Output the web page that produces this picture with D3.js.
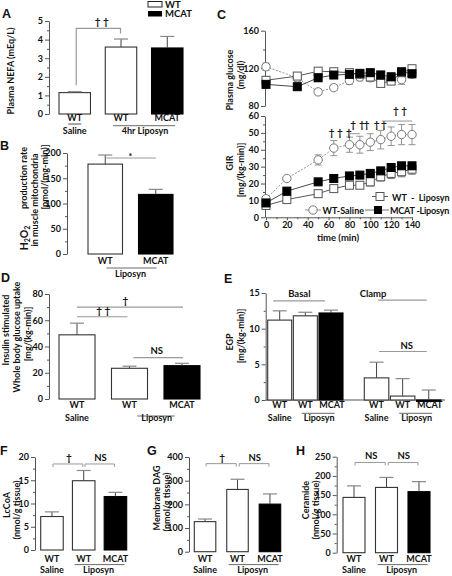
<!DOCTYPE html>
<html><head><meta charset="utf-8">
<script src="https://cdn.jsdelivr.net/npm/d3@7"></script>
<style>
body{margin:0;background:#fff}
text{font-family:Lato,"Liberation Sans",Arial,sans-serif;font-weight:700;fill:#111}
text.letter{font-family:"Liberation Sans",Arial,sans-serif;font-weight:bold}
</style></head><body>
<script>
// ---------------- DATA ----------------
// Panel A: Plasma NEFA
const aCats=["WT-Saline","WT-Liposyn","MCAT-Liposyn"];
const aValues=[1.15,3.6,3.55];
const aErrors=[0.05,0.43,0.62];
const aTicks=[0,1,2,3,4,5];
// Panel B: H2O2 production
const bCats=["WT","MCAT"];
const bValues=[178,118];
const bErrors=[18,10];
const bTicks=[0,50,100,150,200];
// Panel C: clamp time course
const glucTime=[0,30,50,65,80,90,100,110,120,130,140];
const glucSaline=[121.7,110,95,99.5,107,110.8,110,108,107,108,113.6];
const glucSalineErr=[4,4,3,3,4,4,4,4,4,5,4];
const glucWT=[107.3,111.8,117,116.4,115.4,113.6,110.8,104,106.5,115.4,119.6];
const glucWTErr=[4,3,3,3,3,3,3,3,3,3,3];
const glucMCAT=[103,100.5,110,112.9,113.6,114.7,115.4,113,111,116.4,114.3];
const glucMCATErr=[3,3,4,3,3,3,3,3,4,3,3];
const glucTicks=[80,120,160];
const girTime=[0,20,50,65,80,90,100,110,120,130,140];
const girSaline=[11,23,34,41,43,43,44.5,46,48,49,49];
const girSalineErr=[1,1,3,4.5,4.5,5,5,5.5,5.5,6,6];
const girWT=[7,10.5,14,17,19,19,21,24,26,27,28.5];
const girWTErr=[1,1.5,2,2,2,2,2.5,2.5,3,3,3];
const girMCAT=[8.5,15.5,21,23,24.5,25,26,27.5,29.5,30.5,30.5];
const girMCATErr=[1,1.5,1.5,1.5,1.5,1.5,1.5,1.5,2,2,2];
const girTicks=[0,10,20,30,40,50,60];
const timeTicks=[0,20,40,60,80,100,120,140];
const daggerT=[63,71,79.5,83.5,92,96.5,106,113,124.5,132.5];
const daggerY=[48.3,48.3,48.3,53.1,53.1,53.1,53.1,53.1,61.4,61.4];
// Panel D: whole body glucose uptake
const dCats=["WT-Saline","WT-Liposyn","MCAT-Liposyn"];
const dValues=[48.9,23.4,25.4];
const dErrors=[8.9,1.6,1.8];
const dTicks=[0,20,40,60,80];
// Panel E: EGP
const eCats=["WT-Saline","WT-Liposyn","MCAT-Liposyn"];
const eBasal=[11.2,11.8,12.2];
const eBasalErr=[1.3,0.5,0.4];
const eClamp=[3.1,0.55,-0.2];
const eClampErr=[2.2,2.45,1.6];
const eTicks=[0,5,10,15];
// Panel F: LcCoA
const fValues=[7.2,14.9,11.5];
const fErrors=[1.0,2.2,0.9];
const fTicks=[0,5,10,15,20];
// Panel G: Membrane DAG
const gValues=[127,263,201];
const gErrors=[11,43,43];
const gTicks=[0,100,200,300,400];
// Panel H: Ceramide
const hValues=[144,170,159];
const hErrors=[30,26,26];
const hTicks=[0,50,100,150,200,250];
const fills=["#fff","#fff","#000"];

// ---------------- HELPERS ----------------
const svg=d3.select("body").append("svg").attr("width",452).attr("height",576);
svg.append("rect").attr("width",452).attr("height",576).attr("fill","#fff");
const AX="#555";
const NB="\u00a0";

function T(x,y,s,o={}){
  const t=svg.append("text").attr("x",x).attr("y",y).attr("font-size",o.fs||9)
    .attr("text-anchor",o.anchor||"middle").text(s);
  if(o.cls) t.attr("class",o.cls);
  if(o.ls) t.attr("letter-spacing",o.ls);
  if(s.indexOf("†")>=0) t.attr("transform",`rotate(0.02,${x},${y})`);
  return t;
}
function VT(x,y,s,fs){
  return svg.append("text").attr("transform",`translate(${x},${y}) rotate(-90)`)
    .attr("text-anchor","middle").attr("dy","0.35em").attr("font-size",fs||9).text(s);
}
function L(x1,y1,x2,y2,c,w){
  svg.append("line").attr("x1",x1).attr("y1",y1).attr("x2",x2).attr("y2",y2)
    .attr("stroke",c||"#999").attr("stroke-width",w||1);
}
function P(d,c,w){svg.append("path").attr("d",d).attr("fill","none").attr("stroke",c||"#999").attr("stroke-width",w||1);}

function yAxis(y,x,major,fs){
  const step=major[1]-major[0];
  const minor=[];
  for(let i=0;i<major.length-1;i++) minor.push(major[i]+step/2);
  const g=svg.append("g").attr("transform",`translate(${x},0)`)
    .call(d3.axisLeft(y).tickValues(major).tickSize(4).tickSizeOuter(0).tickPadding(2).tickFormat(d3.format("d")));
  g.attr("font-family",null).attr("font-size",null);
  g.select(".domain").attr("stroke",AX);
  g.selectAll(".tick line").attr("stroke",AX);
  g.selectAll(".tick text").attr("font-size",fs||9).attr("fill","#111");
  const g2=svg.append("g").attr("transform",`translate(${x},0)`)
    .call(d3.axisLeft(y).tickValues(minor).tickSize(2).tickSizeOuter(0).tickFormat(""));
  g2.select(".domain").remove();
  g2.selectAll(".tick line").attr("stroke",AX);
}

function bars(x,y,cats,vals,errs,fl){
  const g=svg.append("g");
  g.selectAll("rect").data(cats).join("rect")
    .attr("x",d=>x(d)).attr("width",x.bandwidth())
    .attr("y",(d,i)=>y(Math.max(0,vals[i])))
    .attr("height",(d,i)=>Math.max(0.8,Math.abs(y(vals[i])-y(0))))
    .attr("fill",(d,i)=>fl[i]).attr("stroke",(d,i)=>fl[i]==="#000"?"#000":"#333").attr("stroke-width",1.1);
  cats.forEach((c,i)=>{
    const cx=x(c)+x.bandwidth()/2;
    const top=y(Math.max(0,vals[i])), e=y(vals[i]+errs[i]);
    L(cx,top,cx,e,"#444",1);
    L(cx-7,e,cx+7,e,"#888",1.2);
  });
}
const ctr=(x,c)=>x(c)+x.bandwidth()/2;

// ---------------- PANEL A ----------------
T(2,18,"A",{anchor:"start",fs:12.5,cls:"letter"});
{
  const x=d3.scaleBand().domain(aCats).range([59,183]).paddingInner(0.32).paddingOuter(0);
  const y=d3.scaleLinear().domain([0,5]).range([114,21]);
  yAxis(y,49,aTicks);
  bars(x,y,aCats,aValues,aErrors,fills);
  VT(10.5,71,"Plasma NEFA (mEq/L)");
  P(`M${ctr(x,aCats[0])+1.5},${y(1.55)}V${y(4.6)}H${ctr(x,aCats[1])-0.5}V${y(4.33)}`,"#999",1.2);
  T((ctr(x,aCats[0])+ctr(x,aCats[1]))/2+4,25,"†"+NB+"†",{fs:10});
  T(ctr(x,aCats[0]),121,"WT"); L(ctr(x,aCats[0])-6.5,124,ctr(x,aCats[0])+6.5,124,"#222",0.8);
  T(ctr(x,aCats[1]),121,"WT"); T(ctr(x,aCats[2]),121,"MCAT");
  T(ctr(x,aCats[0]),134,"Saline");
  const m=(ctr(x,aCats[1])+ctr(x,aCats[2]))/2;
  L(m-31,125.7,m+31,125.7,"#444",0.8);
  T(m+1,134,"4hr Liposyn");
  svg.append("rect").attr("x",148).attr("y",1.5).attr("width",14).attr("height",5.5).attr("fill","#fff").attr("stroke","#222");
  svg.append("rect").attr("x",148).attr("y",11).attr("width",14).attr("height",5.5).attr("fill","#000");
  T(165,7.8,"WT",{anchor:"start",fs:9.5});
  T(165,17.3,"MCAT",{anchor:"start",fs:9.5});
}

// ---------------- PANEL B ----------------
T(0,150,"B",{anchor:"start",fs:12.5,cls:"letter"});
{
  const x=d3.scaleBand().domain(bCats).range([88,173]).paddingInner(0.317).paddingOuter(0);
  const y=d3.scaleLinear().domain([0,200]).range([254,153]);
  yAxis(y,67,bTicks);
  bars(x,y,bCats,bValues,bErrors,["#fff","#000"]);
  L(ctr(x,bCats[0])+1,y(190),ctr(x,bCats[1]),y(190),"#999",1.1);
  T((ctr(x,bCats[0])+ctr(x,bCats[1]))/2,y(195)+4,"*",{fs:9});
  T(ctr(x,bCats[0]),264,"WT"); T(ctr(x,bCats[1]),264,"MCAT");
  const m=(ctr(x,bCats[0])+ctr(x,bCats[1]))/2;
  L(m-24,268,m+26,268,"#444",0.8);
  T(m,277,"Liposyn");
  const h=svg.append("text").attr("transform","translate(24,238) rotate(-90)").attr("text-anchor","middle").attr("dy","0.35em").attr("font-size",10.5);
  h.append("tspan").text("H");
  h.append("tspan").attr("font-size",7).attr("dy",2.5).text("2");
  h.append("tspan").attr("dy",-2.5).text("O");
  h.append("tspan").attr("font-size",7).attr("dy",2.5).text("2");
  VT(24,178,"production rate");
  VT(34.5,200,"in muscle mitochondria");
  VT(45,177,"[pmol/(mg-min)]");
}

// ---------------- PANEL C ----------------
T(217,19,"C",{anchor:"start",fs:12.5,cls:"letter"});
{
  const xg=d3.scaleLinear().domain([0,140]).range([266,412]);
  const yg=d3.scaleLinear().domain([80,160]).range([106,30.7]);
  const yr=d3.scaleLinear().domain([0,60]).range([217.3,116]);
  yAxis(yg,265,glucTicks);
  yAxis(yr,265,girTicks);
  const gx=svg.append("g").attr("transform","translate(0,217.3)")
    .call(d3.axisBottom(xg).tickValues(timeTicks).tickSize(3).tickSizeOuter(0).tickPadding(1).tickFormat(d3.format("d")));
  gx.attr("font-family",null).attr("font-size",null);
  gx.select(".domain").attr("stroke",AX);
  gx.selectAll(".tick line").attr("stroke",AX);
  gx.selectAll(".tick text").attr("font-size",9).attr("fill","#111");
  const gx2=svg.append("g").attr("transform","translate(0,217.3)")
    .call(d3.axisBottom(xg).tickValues(d3.range(10,140,20)).tickSize(2).tickSizeOuter(0).tickFormat(""));
  gx2.select(".domain").remove(); gx2.selectAll(".tick line").attr("stroke",AX);
  T(338,241,"time (min)",{fs:9.5});

  function series(xs,ys,t,v,e,st){
    const line=d3.line().x((d,i)=>xs(t[i])).y(d=>ys(d));
    svg.append("path").attr("d",line(v)).attr("fill","none").attr("stroke",st.line)
      .attr("stroke-width",st.lw||0.9).attr("stroke-dasharray",st.dash||null);
    v.forEach((d,i)=>{
      const cx=xs(t[i]);
      const y1=ys(d+e[i]), y0=ys(d-e[i]);
      L(cx,y0,cx,y1,st.err,0.9);
      L(cx-3.5,y1,cx+3.5,y1,st.err,0.9);
      L(cx-3.5,y0,cx+3.5,y0,st.err,0.9);
    });
    const g=svg.append("g");
    if(st.shape==="circle"){
      g.selectAll("circle").data(v).join("circle").attr("cx",(d,i)=>xs(t[i])).attr("cy",d=>ys(d))
        .attr("r",4.2).attr("fill","#fff").attr("stroke","#777").attr("stroke-width",1);
    } else {
      g.selectAll("rect").data(v).join("rect").attr("x",(d,i)=>xs(t[i])-4).attr("y",d=>ys(d)-4)
        .attr("width",8).attr("height",8).attr("fill",st.fill).attr("stroke",st.stroke).attr("stroke-width",1);
    }
  }
  const sSal={line:"#888",dash:"2,1.5",err:"#888",shape:"circle"};
  const sWT={line:"#444",err:"#666",shape:"rect",fill:"#fff",stroke:"#555"};
  const sMC={line:"#333",err:"#444",shape:"rect",fill:"#000",stroke:"#000"};
  series(xg,yg,glucTime,glucSaline,glucSalineErr,sSal);
  series(xg,yg,glucTime,glucWT,glucWTErr,sWT);
  series(xg,yg,glucTime,glucMCAT,glucMCATErr,sMC);
  series(xg,yr,girTime,girSaline,girSalineErr,sSal);
  series(xg,yr,girTime,girWT,girWTErr,sWT);
  series(xg,yr,girTime,girMCAT,girMCATErr,sMC);
  daggerT.forEach((t,i)=>T(xg(t),yr(daggerY[i]),"†",{fs:10}));
  L(xg(79.5),yr(49.5),xg(90),yr(49.5),"#888",0.9);
  L(xg(111),yr(57),xg(140),yr(57),"#888",0.9);
  VT(230,80,"Plasma glucose");
  VT(241,75,"(mg/dl)");
  VT(230,163,"GIR");
  VT(241,170,"[mg/(kg-min)]");
  // legend
  L(372,196.5,388,196.5,"#444",0.9);
  svg.append("rect").attr("x",376).attr("y",192.5).attr("width",8).attr("height",8).attr("fill","#fff").attr("stroke","#555");
  T(392,200.5,"WT"+NB+" - "+NB+"Liposyn",{anchor:"start",fs:9});
  L(305,210,321,210,"#888",0.9);
  svg.append("circle").attr("cx",313).attr("cy",210).attr("r",4.2).attr("fill","#fff").attr("stroke","#777");
  T(322.5,213.5,"WT-Saline",{anchor:"start",fs:9});
  L(365,210,389,210,"#666",0.9);
  svg.append("rect").attr("x",374).attr("y",206).attr("width",8).attr("height",8).attr("fill","#000");
  T(390,213.5,"MCAT -Liposyn",{anchor:"start",fs:9,ls:-0.2});
}

// ---------------- PANEL D ----------------
T(1,282,"D",{anchor:"start",fs:12.5,cls:"letter"});
{
  const x=d3.scaleBand().domain(dCats).range([59,200]).paddingInner(0.314).paddingOuter(0);
  const y=d3.scaleLinear().domain([0,80]).range([399,294]);
  yAxis(y,49,dTicks);
  bars(x,y,dCats,dValues,dErrors,fills);
  const c0=ctr(x,dCats[0]),c1=ctr(x,dCats[1]),c2=ctr(x,dCats[2]);
  L(c0,y(70),c2+1,y(70),"#999",1.1);
  T((c0+c2)/2-4,y(70)-3,"†",{fs:10});
  L(c0,y(62.7),c1-2,y(62.7),"#999",1.1);
  T((c0+c1)/2,y(62.7)-3,"†"+NB+"†",{fs:10});
  L(c1+4,y(31.5),c2+1,y(31.5),"#999",1.1);
  T((c1+c2)/2+1,y(31.5)-4,"NS",{fs:9.5});
  T(c0,408,"WT"); T(c1,408,"WT"); T(c2,408,"MCAT");
  T(c0,421,"Saline");
  const m=(c1+c2)/2;
  L(m-18.5,416,m+19,416,"#444",0.8);
  T(m+1,421,"Liposyn");
  VT(6,330,"Insulin stimulated");
  VT(16.5,337,"Whole body glucose uptake");
  VT(27.5,334,"[mg/(kg-min)]");
}

// ---------------- PANEL E ----------------
T(224,283,"E",{anchor:"start",fs:12.5,cls:"letter"});
{
  const xb=d3.scaleBand().domain(eCats).range([267.7,343]).paddingInner(0.064).paddingOuter(0);
  const xc=d3.scaleBand().domain(eCats).range([364.3,441]).paddingInner(0.061).paddingOuter(0);
  const y=d3.scaleLinear().domain([0,15]).range([400,293]);
  yAxis(y,265.7,eTicks);
  L(265.7,400,445,400,AX,1);
  bars(xb,y,eCats,eBasal,eBasalErr,fills);
  bars(xc,y,eCats,eClamp,eClampErr,fills);
  const b=eCats.map(c=>ctr(xb,c)), k=eCats.map(c=>ctr(xc,c));
  T((b[0]+b[2])/2-6,297,"Basal",{fs:9.5});
  L(b[0]-6.5,y(13.9),b[2]-6,y(13.9),"#999",1.1);
  T(k[0]-3.5,297,"Clamp",{fs:9.5});
  L(k[0]+1.5,y(14),k[2]-2,y(14),"#999",1.1);
  L(k[0]+2.5,y(6.8),k[2]-2,y(6.8),"#999",1.1);
  T((k[0]+k[2])/2+4,349,"NS",{fs:9.5});
  [b,k].forEach(c=>{
    T(c[0],408,"WT"); T(c[1],408,"WT"); T(c[2]+1,408,"MCAT");
    T(c[0],420.5,"Saline");
    const m=(c[1]+c[2])/2;
    L(m-16.5,413.3,m+16.5,413.3,"#444",0.8);
    T(m+1,420.5,"Liposyn");
  });
  VT(229.5,342,"EGP");
  VT(240.5,336,"[mg/(kg-min)]");
}

// ---------------- PANELS F, G, H ----------------
function smallPanel(cfg){
  const x=d3.scaleBand().domain(aCats).range(cfg.xr).paddingInner(cfg.pad).paddingOuter(0);
  const y=d3.scaleLinear().domain([0,cfg.max]).range(cfg.yr);
  yAxis(y,cfg.ax,cfg.ticks);
  bars(x,y,aCats,cfg.vals,cfg.errs,fills);
  const c=aCats.map(k=>ctr(x,k));
  const by=y(cfg.bk);
  const m1=(c[0]+c[1])/2, m2=(c[1]+c[2])/2;
  P(`M${c[0]+1},${by+3}V${by}H${m1+15}V${by+3}`,"#999",1);
  P(`M${m2-14.5},${by+3}V${by}H${c[2]-1}V${by+3}`,"#999",1);
  T(m1+1,by-3,cfg.s1,{fs:cfg.s1==="NS"?9.5:10});
  T(m2+1,by-3,cfg.s2,{fs:9.5});
  T(c[0],562,"WT"); T(c[1],562,"WT"); T(c[2],562,"MCAT");
  T(c[0],573,"Saline");
  L(m2-25,564.6,m2+25,564.6,"#444",0.8);
  T(m2-1,573,"Liposyn");
  VT(cfg.l1x,cfg.l1y,cfg.l1);
  VT(cfg.l2x,cfg.l2y,"(nmol/g tissue)");
  T(cfg.lx,455,cfg.letter,{anchor:"start",fs:12.5,cls:"letter"});
}
smallPanel({xr:[40.7,126.7],pad:0.29,max:20,yr:[550,457],ax:35,ticks:fTicks,vals:fValues,errs:fErrors,
  bk:18.5,s1:"†",s2:"NS",l1:"LcCoA",l1x:6.5,l1y:505,l2x:16.5,l2y:510,letter:"F",lx:0});
smallPanel({xr:[194.3,280.7],pad:0.337,max:400,yr:[551.7,457],ax:189,ticks:gTicks,vals:gValues,errs:gErrors,
  bk:372,s1:"†",s2:"NS",l1:"Membrane DAG",l1x:157,l1y:498,l2x:167,l2y:502,letter:"G",lx:147});
smallPanel({xr:[343,430],pad:0.323,max:250,yr:[552.7,456.7],ax:336.7,ticks:hTicks,vals:hValues,errs:hErrors,
  bk:235,s1:"NS",s2:"NS",l1:"Ceramide",l1x:306,l1y:500,l2x:316,l2y:510,letter:"H",lx:296});
</script></body></html>
